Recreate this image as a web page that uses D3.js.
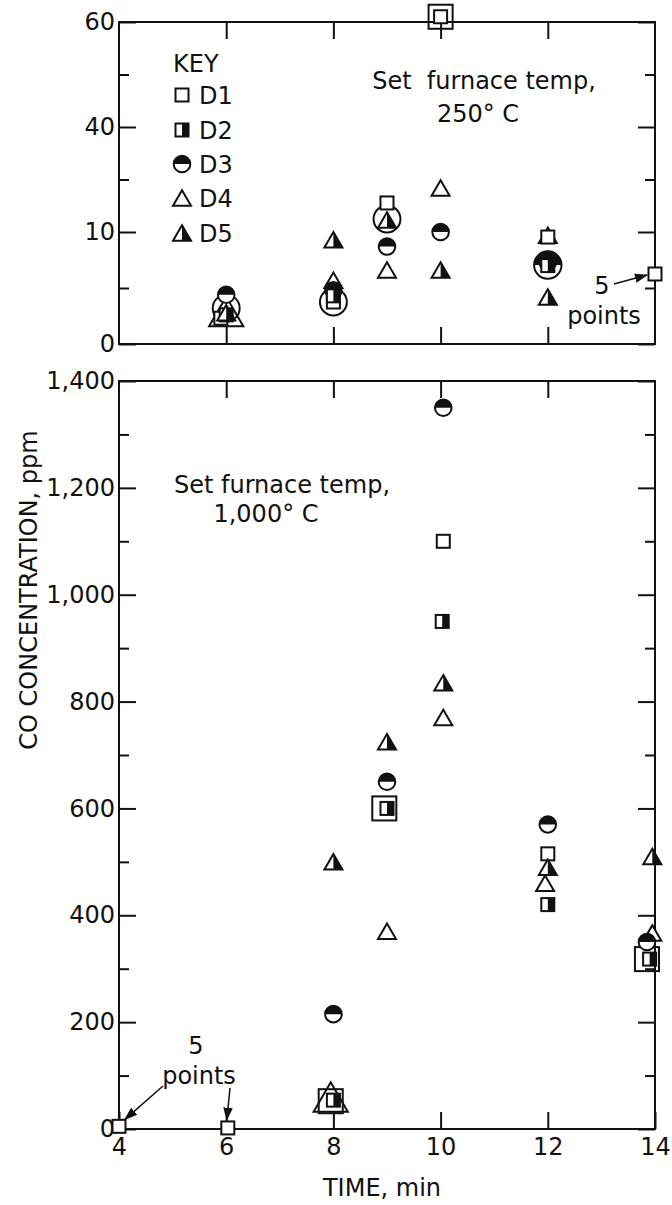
<!DOCTYPE html>
<html><head><meta charset="utf-8">
<script src="https://cdn.jsdelivr.net/npm/d3@7"></script>
<style>
body{margin:0;background:#fff}
text{font-family:"DejaVu Sans",sans-serif;fill:#111;white-space:pre}
</style>
</head><body>
<svg id="c" width="672" height="1205"></svg>
<script>
// ---------------- DATA ----------------
const seriesNames = ["D1", "D2", "D3", "D4", "D5"];
const seriesShapes = ["square", "squareHalf", "circleHalf", "triangle", "triangleHalf"];

// x axis
const timeDomain = [4, 14];
const timeTicks = [6, 8, 10, 12];
const timeLabels = [4, 6, 8, 10, 12, 14];

// top panel (set furnace temp 250 C) – axis printed as 0, 10, 40, 60
const topTickLabels = [0, 10, 40, 60];
const topMinorTicks = [5, 25, 50];
const topD1 = [[5.9, 2.3], [8, 3.75], [9, 18.3], [10, 61], [12, 9.55], [14, 6.25]];
const topD2 = [[6.0, 2.6], [8, 4.3], [12, 7.0]];
const topD3 = [[6, 4.4], [8, 4.8], [9, 8.7], [10, 10.0], [12, 7.3]];
const topD4 = [[8, 5.7], [9, 6.6], [10, 22.6], [12, 9.7]];
const topD5 = [[6.0, 2.8], [8, 9.3], [9, 13.4], [10, 6.6], [12, 4.2]];
// enlarged / encircling symbols
const topBig = [
  {shape: "circle", t: 6, v: 3.2},
  {shape: "triangle", t: 6, v: 2.9},
  {shape: "circle", t: 8, v: 3.75},
  {shape: "circle", t: 9, v: 13.7},
  {shape: "square", t: 10, v: 61},
  {shape: "circleHalf", t: 12, v: 7.05}
];

// bottom panel (set furnace temp 1,000 C)
const botMajorTicks = [0, 200, 400, 600, 800, 1000, 1200, 1400];
const botMinorTicks = [100, 300, 500, 700, 900, 1100, 1300];
const botD1 = [[4, 5], [6.03, 2], [10.05, 1100], [12, 515]];
const botD2 = [[8, 54], [9, 600], [10.03, 950], [12, 420], [13.9, 318]];
const botD3 = [[8, 215], [9, 650], [10.05, 1350], [12, 570], [13.85, 350]];
const botD4 = [[9, 370], [10.05, 770], [11.95, 460], [13.95, 367]];
const botD5 = [[8, 500], [9, 725], [10.05, 835], [12, 490], [13.95, 510]];
const botBig = [
  {shape: "triangle", t: 7.95, v: 60},
  {shape: "square", t: 7.95, v: 52},
  {shape: "square", t: 8.95, v: 600},
  {shape: "square", t: 13.85, v: 318}
];

// ---------------- CHART ----------------
const svg = d3.select("#c");
const FONT = 24;
const x = d3.scaleLinear().domain(timeDomain).range([119, 655]);
const yTop = d3.scaleLinear().domain(topTickLabels).range([344, 232, 127, 22]);
const yBot = d3.scaleLinear().domain([0, 1400]).range([1129, 381]);

function styleAxis(g) {
  g.select(".domain").remove();
  g.selectAll(".tick line").attr("stroke", "#111").attr("stroke-width", 2);
  g.selectAll(".tick text").attr("font-size", FONT).attr("font-family", "DejaVu Sans, sans-serif").attr("fill", "#111");
}

function panel(y, major, minor, fmt, bottomLabels) {
  const g = svg.append("g");
  const [x0, x1] = x.range();
  const r = y.range();
  const yb = r[0], yt = r[r.length - 1];
  g.append("rect").attr("x", x0).attr("y", yt).attr("width", x1 - x0).attr("height", yb - yt)
    .attr("fill", "none").attr("stroke", "#111").attr("stroke-width", 2);
  g.append("g").attr("transform", `translate(${x0},0)`)
    .call(d3.axisLeft(y).tickValues(major).tickSize(-17).tickPadding(4).tickFormat(fmt)).call(styleAxis);
  g.append("g").attr("transform", `translate(${x0},0)`)
    .call(d3.axisLeft(y).tickValues(minor).tickSize(-10).tickFormat("")).call(styleAxis);
  g.append("g").attr("transform", `translate(${x1},0)`)
    .call(d3.axisRight(y).tickValues(major).tickSize(-17).tickFormat("")).call(styleAxis);
  g.append("g").attr("transform", `translate(${x1},0)`)
    .call(d3.axisRight(y).tickValues(minor).tickSize(-10).tickFormat("")).call(styleAxis);
  g.append("g").attr("transform", `translate(0,${yt})`)
    .call(d3.axisTop(x).tickValues(timeTicks).tickSize(-17).tickFormat("")).call(styleAxis);
  if (bottomLabels) {
    g.append("g").attr("transform", `translate(0,${yb})`)
      .call(d3.axisBottom(x).tickValues(timeLabels).tickSize(-17).tickPadding(9).tickFormat(d => String(d))).call(styleAxis);
  } else {
    g.append("g").attr("transform", `translate(0,${yb})`)
      .call(d3.axisBottom(x).tickValues(timeTicks).tickSize(-17).tickFormat("")).call(styleAxis);
  }
}

panel(yTop, topTickLabels, topMinorTicks, d => String(d), false);
panel(yBot, botMajorTicks, botMinorTicks, d3.format(","), true);

// marker drawing
function drawMarker(g, shape, cx, cy, k, fillBody) {
  const body = fillBody === undefined ? "#fff" : fillBody;
  const sw = 2;
  if (shape.startsWith("square")) {
    const a = 6.5 * k;
    g.append("rect").attr("x", cx - a).attr("y", cy - a).attr("width", 2 * a).attr("height", 2 * a)
      .attr("fill", body).attr("stroke", "#111").attr("stroke-width", sw);
    if (shape === "squareHalf")
      g.append("rect").attr("x", cx).attr("y", cy - a).attr("width", a).attr("height", 2 * a).attr("fill", "#111");
  } else if (shape.startsWith("circle")) {
    const rr = 8.3 * k;
    g.append("circle").attr("cx", cx).attr("cy", cy).attr("r", rr)
      .attr("fill", body).attr("stroke", "#111").attr("stroke-width", sw);
    if (shape === "circleHalf")
      g.append("path").attr("d", `M${cx - rr},${cy}A${rr},${rr} 0 0 1 ${cx + rr},${cy}Z`).attr("fill", "#111");
  } else {
    const w = 18 * k, h = 15.5 * k;
    g.append("path").attr("d", `M${cx},${cy - h / 2}L${cx + w / 2},${cy + h / 2}L${cx - w / 2},${cy + h / 2}Z`)
      .attr("fill", body).attr("stroke", "#111").attr("stroke-width", sw).attr("stroke-linejoin", "miter");
    if (shape === "triangleHalf")
      g.append("path").attr("d", `M${cx},${cy - h / 2}L${cx + w / 2},${cy + h / 2}L${cx},${cy + h / 2}Z`).attr("fill", "#111");
  }
}
const bigScale = {circle: 1.62, circleHalf: 1.65, square: 1.85, triangle: 1.9};

function plotPanel(y, big, series) {
  const g = svg.append("g");
  big.forEach(b => drawMarker(g, b.shape, x(b.t), y(b.v), bigScale[b.shape], "none"));
  big.filter(b => b.shape === "circleHalf").forEach(b => {
    const rr = 8.3 * bigScale[b.shape], cx = x(b.t), cy = y(b.v);
    g.append("path").attr("d", `M${cx - rr},${cy}A${rr},${rr} 0 0 1 ${cx + rr},${cy}Z`).attr("fill", "#111");
  });
  const order = [3, 2, 0, 1, 4];
  order.forEach(i => {
    series[i].forEach(([t, v]) => drawMarker(g, seriesShapes[i], x(t), y(v), 1));
  });
}
plotPanel(yTop, topBig, [topD1, topD2, topD3, topD4, topD5]);
plotPanel(yBot, botBig, [botD1, botD2, botD3, botD4, botD5]);

// legend
const leg = svg.append("g");
leg.append("text").attr("x", 173).attr("y", 72).attr("font-size", FONT).text("KEY");
const legRows = [95, 130, 164, 198, 233];
seriesNames.forEach((n, i) => {
  drawMarker(leg, seriesShapes[i], 182, legRows[i], 1);
  leg.append("text").attr("x", 199).attr("y", legRows[i] + 9).attr("font-size", FONT).text(n);
});

// annotations
svg.append("text").attr("x", 484).attr("y", 89).attr("text-anchor", "middle").attr("font-size", FONT).text("Set  furnace temp,");
svg.append("text").attr("x", 478).attr("y", 122).attr("text-anchor", "middle").attr("font-size", FONT).text("250° C");
svg.append("text").attr("x", 282).attr("y", 493).attr("text-anchor", "middle").attr("font-size", FONT).text("Set furnace temp,");
svg.append("text").attr("x", 266).attr("y", 522).attr("text-anchor", "middle").attr("font-size", FONT).text("1,000° C");

// arrows
const defs = svg.append("defs");
defs.append("marker").attr("id", "ah").attr("viewBox", "0 0 10 10").attr("refX", 9).attr("refY", 5)
  .attr("markerWidth", 9).attr("markerHeight", 9).attr("orient", "auto")
  .append("path").attr("d", "M0,1.5L10,5L0,8.5Z").attr("fill", "#111");
function arrow(x1, y1, x2, y2) {
  svg.append("line").attr("x1", x1).attr("y1", y1).attr("x2", x2).attr("y2", y2)
    .attr("stroke", "#111").attr("stroke-width", 1.5).attr("marker-end", "url(#ah)");
}
const tp = [x(14), yTop(6.25)];
svg.append("text").attr("x", 602).attr("y", 294).attr("text-anchor", "middle").attr("font-size", FONT).text("5");
svg.append("text").attr("x", 604).attr("y", 324).attr("text-anchor", "middle").attr("font-size", FONT).text("points");
arrow(614, 284, tp[0] - 8, tp[1] + 1);
const b4 = [x(4), yBot(5)], b6 = [x(6.03), yBot(2)];
svg.append("text").attr("x", 196).attr("y", 1054).attr("text-anchor", "middle").attr("font-size", FONT).text("5");
svg.append("text").attr("x", 199).attr("y", 1084).attr("text-anchor", "middle").attr("font-size", FONT).text("points");
arrow(163, 1086, b4[0] + 6, b4[1] - 7);
arrow(230, 1088, b6[0] - 1, b6[1] - 8);

// axis titles
svg.append("text").attr("x", 382).attr("y", 1196).attr("text-anchor", "middle").attr("font-size", FONT).text("TIME, min");
svg.append("text").attr("transform", "translate(37,590) rotate(-90)").attr("text-anchor", "middle")
  .attr("font-size", FONT).text("CO CONCENTRATION, ppm");
</script>
</body></html>
